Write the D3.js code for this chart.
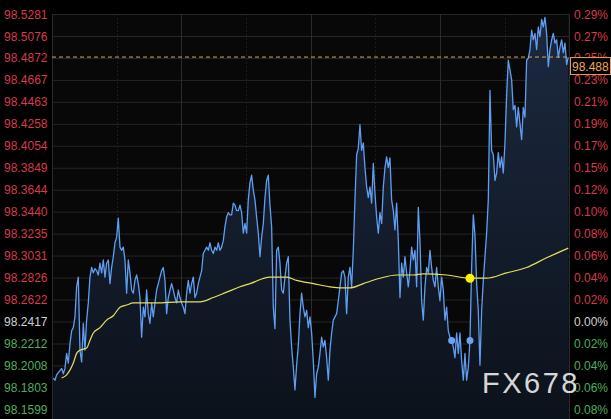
<!DOCTYPE html>
<html><head><meta charset="utf-8">
<script src="https://cdn.jsdelivr.net/npm/d3@7"></script>
<style>html,body{margin:0;padding:0;background:#000;overflow:hidden}svg{display:block}</style>
</head><body><svg id="c" width="611" height="419"></svg>
<script>
// ---------- data ----------
const priceLabels = ["98.5281","98.5076","98.4872","98.4667","98.4463","98.4258","98.4054","98.3849","98.3644","98.3440","98.3235","98.3031","98.2826","98.2622","98.2417","98.2212","98.2008","98.1803","98.1599"];
const pctLabels = ["0.29%","0.27%","0.25%","0.23%","0.21%","0.19%","0.17%","0.15%","0.12%","0.10%","0.08%","0.06%","0.04%","0.02%","0.00%","0.02%","0.04%","0.06%","0.08%"];
const prevClose = 98.2417;
const lastPrice = 98.488;
const lastLabel = "98.488";
const prices = [
98.189,98.187,98.192,98.194,98.196,98.198,98.193,98.198,98.212,98.203,
98.221,98.233,98.236,98.246,98.274,98.283,98.215,98.204,98.240,98.215,
98.243,98.259,98.283,98.292,98.287,98.291,98.289,98.285,98.296,98.287,
98.299,98.283,98.296,98.299,98.277,98.292,98.302,98.315,98.320,98.338,
98.311,98.308,98.311,98.299,98.268,98.299,98.287,98.271,98.268,98.280,
98.285,98.277,98.264,98.227,98.255,98.246,98.271,98.249,98.240,98.259,
98.246,98.259,98.271,98.277,98.283,98.289,98.292,98.280,98.249,98.264,
98.271,98.277,98.271,98.264,98.259,98.271,98.264,98.259,98.255,98.249,
98.268,98.280,98.268,98.277,98.283,98.264,98.268,98.277,98.283,98.289,
98.305,98.308,98.311,98.308,98.315,98.308,98.305,98.311,98.308,98.315,
98.308,98.311,98.317,98.330,98.339,98.343,98.341,98.341,98.352,98.350,
98.345,98.345,98.350,98.343,98.324,98.333,98.324,98.355,98.371,98.378,
98.364,98.355,98.339,98.324,98.302,98.320,98.333,98.357,98.373,98.378,
98.350,98.330,98.255,98.235,98.308,98.311,98.296,98.271,98.268,98.283,
98.296,98.302,98.243,98.218,98.199,98.178,98.201,98.219,98.249,98.268,
98.255,98.246,98.252,98.236,98.246,98.231,98.205,98.171,98.193,98.199,
98.212,98.227,98.218,98.224,98.208,98.187,98.215,98.231,98.243,98.246,
98.249,98.261,98.274,98.287,98.289,98.283,98.249,98.283,98.292,98.274,
98.308,98.355,98.397,98.403,98.425,98.401,98.408,98.385,98.367,98.357,
98.367,98.352,98.389,98.361,98.339,98.324,98.343,98.333,98.367,98.385,
98.395,98.385,98.394,98.355,98.345,98.327,98.352,98.317,98.264,98.296,
98.283,98.302,98.287,98.274,98.289,98.311,98.299,98.308,98.274,98.348,
98.317,98.261,98.243,98.274,98.292,98.287,98.308,98.292,98.280,98.274,
98.292,98.274,98.261,98.283,98.271,98.243,98.255,98.233,98.227,98.224,
98.218,98.208,98.231,98.212,98.231,98.205,98.187,98.212,98.187,98.199,
98.224,98.292,98.341,98.322,98.277,98.252,98.201,98.252,98.280,98.302,
98.324,98.355,98.457,98.401,98.397,98.373,98.380,98.399,98.385,98.395,
98.380,98.408,98.453,98.485,98.476,98.467,98.439,98.443,98.423,98.441,
98.426,98.411,98.441,98.432,98.485,98.487,98.495,98.513,98.504,98.510,
98.495,98.516,98.507,98.523,98.516,98.525,98.510,98.479,98.495,98.504,
98.510,98.501,98.504,98.488,98.497,98.504,98.492,98.501,98.481,98.488
];
const maIndex = [5,8,12,14,16,20,22,24,28,32,36,40,44,48,62,76,88,96,104,112,118,130,140,146,156,166,172,178,186,196,206,216,222,236,250,260,272,284,296,309];
const maValues = [98.189,98.192,98.203,98.212,98.215,98.217,98.224,98.231,98.236,98.243,98.247,98.255,98.257,98.259,98.259,98.260,98.260,98.264,98.269,98.274,98.277,98.283,98.283,98.280,98.277,98.274,98.273,98.273,98.277,98.282,98.285,98.285,98.286,98.285,98.282,98.282,98.287,98.292,98.301,98.310];
const priceMarkerIdx = [239, 250];
const maMarkerIdx = 250;
const watermark = "FX678";

// ---------- layout ----------
const W = 611, H = 419;
const plotL = 52, plotR = 569.3, plotT = 14, plotB = 419;
const svg = d3.select("#c");
const tickVals = priceLabels.map(Number);

const x = d3.scaleLinear().domain([0, prices.length - 1]).range([53.3, 568.3]);
const y = d3.scaleLinear().domain([d3.min(tickVals), d3.max(tickVals)]).range([409.3, plotT]);

svg.append("rect").attr("width", W).attr("height", H).attr("fill", "#000");
svg.append("rect").attr("x", plotL).attr("y", plotT).attr("width", plotR - plotL).attr("height", plotB - plotT).attr("fill", "#080808");

const defs = svg.append("defs");
const grad = defs.append("linearGradient").attr("id", "fillg").attr("x1", 0).attr("y1", 0).attr("x2", 0).attr("y2", 1)
  .attr("gradientUnits", "userSpaceOnUse").attr("x1", 0).attr("y1", plotT).attr("x2", 0).attr("y2", plotB);
grad.append("stop").attr("offset", 0).attr("stop-color", "#1c2940");
grad.append("stop").attr("offset", 1).attr("stop-color", "#0c121b");

// grid
const g = svg.append("g");
g.selectAll("line.h").data(tickVals).join("line")
  .attr("x1", plotL).attr("x2", plotR)
  .attr("y1", d => y(d) + 0.5).attr("y2", d => y(d) + 0.5)
  .attr("stroke", "#262626").attr("stroke-width", 1);
const nV = 8;
d3.range(nV + 1).forEach(j => {
  const xv = Math.round(plotL + (plotR - plotL) * j / nV) + 0.5;
  g.append("line").attr("x1", xv).attr("x2", xv).attr("y1", plotT).attr("y2", plotB)
    .attr("stroke", j % 2 === 0 ? "#2c2c2c" : "#1c1c1c")
    .attr("stroke-dasharray", j % 2 === 0 ? null : "2,2");
});

// area + line
const area = d3.area().x((d, i) => x(i)).y0(plotB).y1(d => y(d));
svg.append("path").datum(prices).attr("d", area).attr("fill", "url(#fillg)");
const line = d3.line().x((d, i) => x(i)).y(d => y(d));
svg.append("path").datum(prices).attr("d", line).attr("fill", "none")
  .attr("stroke", "#5f9ef0").attr("stroke-width", 1.3).attr("stroke-linejoin", "round");

// MA line
const maData = maIndex.map((k, i) => [k, maValues[i]]);
const maLine = d3.line().x(d => x(d[0])).y(d => y(d[1])).curve(d3.curveMonotoneX);
svg.append("path").datum(maData).attr("d", maLine).attr("fill", "none")
  .attr("stroke", "#e6e05c").attr("stroke-width", 1.2);

// markers
svg.selectAll("circle.pm").data(priceMarkerIdx).join("circle")
  .attr("cx", d => x(d)).attr("cy", d => y(prices[d])).attr("r", 3.5).attr("fill", "#6aa4ee");
const maMarkerVal = maValues[maIndex.indexOf(maMarkerIdx)];
svg.append("circle").attr("cx", x(maMarkerIdx)).attr("cy", y(maMarkerVal)).attr("r", 4.5).attr("fill", "#fff200");

// last price dashed line
svg.append("line").attr("x1", plotL).attr("x2", plotR)
  .attr("y1", y(lastPrice)).attr("y2", y(lastPrice))
  .attr("stroke", "#e6a060").attr("stroke-width", 1).attr("stroke-dasharray", "4,3");

// axis labels
const colorFor = v => Math.abs(v - prevClose) < 1e-6 ? "#d0d0d0" : (v > prevClose ? "#d83a4c" : "#4fae5c");
const fontFam = "Arial, 'Liberation Sans', sans-serif";
svg.selectAll("text.l").data(tickVals).join("text")
  .attr("x", 47.5).attr("y", d => y(d) + 4.5)
  .attr("text-anchor", "end").attr("font-family", fontFam).attr("font-size", 12)
  .attr("fill", d => colorFor(d)).text((d, i) => priceLabels[i]);
svg.selectAll("text.r").data(tickVals).join("text")
  .attr("x", 574).attr("y", d => y(d) + 4.5)
  .attr("text-anchor", "start").attr("font-family", fontFam).attr("font-size", 12)
  .attr("fill", d => colorFor(d)).text((d, i) => pctLabels[i]);

// right border line
svg.append("line").attr("x1", plotR).attr("x2", plotR).attr("y1", plotT).attr("y2", plotB)
  .attr("stroke", "#2c2c2c");

// last price box
const by = y(lastPrice);
svg.append("rect").attr("x", 570.5).attr("y", by + 0.5).attr("width", 40).attr("height", 17)
  .attr("fill", "#000").attr("stroke", "#e6a060").attr("stroke-width", 1);
svg.append("text").attr("x", 572).attr("y", by + 13.5).attr("font-family", fontFam).attr("font-size", 12)
  .attr("fill", "#f0a860").text(lastLabel);

// watermark
svg.append("text").attr("x", 482).attr("y", 393).attr("font-family", fontFam).attr("font-size", 29)
  .attr("letter-spacing", 2.5).attr("fill", "#ececec").attr("fill-opacity", 0.92).text(watermark);
</script>
</body></html>
